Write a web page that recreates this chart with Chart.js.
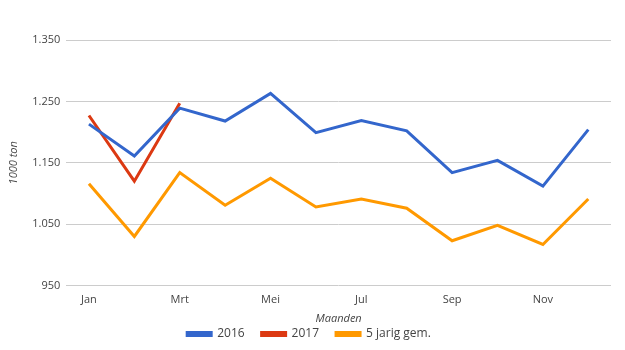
<!DOCTYPE html>
<html>
<head>
<meta charset="utf-8">
<script src="https://cdn.jsdelivr.net/npm/chart.js@4/dist/chart.umd.min.js"></script>
<style>
html,body{margin:0;padding:0;background:#fff;}
#wrap{width:625px;height:350px;}
</style>
</head>
<body>
<div id="wrap"><canvas id="c" width="625" height="350"></canvas></div>
<script>
const months = ['Jan','Feb','Mrt','Apr','Mei','Jun','Jul','Aug','Sep','Okt','Nov','Dec'];
const s2016 = [1213,1161,1239,1218,1263,1199,1219,1202,1134,1154,1112,1204];
const s2017 = [1227,1120,1247,null,null,null,null,null,null,null,null,null];
const s5jr  = [1116,1030,1134,1081,1125,1078,1091,1076,1023,1048,1017,1091];
const seriesNames = ['2016','2017','5 jarig gem.'];
const yTicks = [950,1050,1150,1250,1350];

const colors = ['#3366cc','#dc3912','#ff9900'];
const fontFam = '"Open Sans", Roboto, sans-serif';
const txt = '#444';

function fmt(v){ return v >= 1000 ? Math.floor(v/1000) + '.' + String(v%1000).padStart(3,'0') : String(v); }

new Chart(document.getElementById('c'), {
  type: 'line',
  data: {
    labels: months,
    datasets: [s2016, s2017, s5jr].map((d,i)=>({
      label: seriesNames[i],
      data: d,
      borderColor: colors[i],
      backgroundColor: colors[i],
      borderWidth: 3,
      pointRadius: 0,
      pointHoverRadius: 0,
      tension: 0,
      spanGaps: false
    }))
  },
  options: {
    responsive: false,
    animation: false,
    layout: { padding: { top: 40, right: 14, left: 7, bottom: 0 } },
    plugins: {
      legend: {
        position: 'bottom',
        labels: {
          boxWidth: 24, boxHeight: 3, color: txt, font: { family: fontFam, size: 12 }, padding: 3,
          generateLabels: function(chart){
            const items = Chart.defaults.plugins.legend.labels.generateLabels(chart);
            items.forEach((it, i) => { if (i < items.length - 1) it.text = it.text + '\u2002\u2002\u2009'; });
            return items;
          }
        }
      },
      tooltip: { enabled: false }
    },
    scales: {
      x: {
        offset: true,
        grid: { display: false },
        border: { display: false },
        ticks: {
          color: txt, font: { family: fontFam, size: 11 }, autoSkip: false, maxRotation: 0, padding: 0,
          callback: function(v, i){ return i % 2 === 0 ? months[i] : ''; }
        },
        title: { display: true, text: 'Maanden', color: txt, font: { family: fontFam, size: 11, style: 'italic' }, padding: { top: 5, bottom: 0 } }
      },
      y: {
        min: 950, max: 1350,
        afterBuildTicks: function(ax){ ax.ticks = yTicks.map(v=>({value:v})); },
        grid: { color: '#cccccc', drawTicks: false },
        border: { display: false },
        ticks: { color: txt, font: { family: fontFam, size: 11 }, padding: 6, callback: v => fmt(v) },
        title: { display: true, text: '1000 ton', color: txt, font: { family: fontFam, size: 11, style: 'italic' }, padding: { top: 0, bottom: 6 } }
      }
    }
  }
});
</script>
</body>
</html>
